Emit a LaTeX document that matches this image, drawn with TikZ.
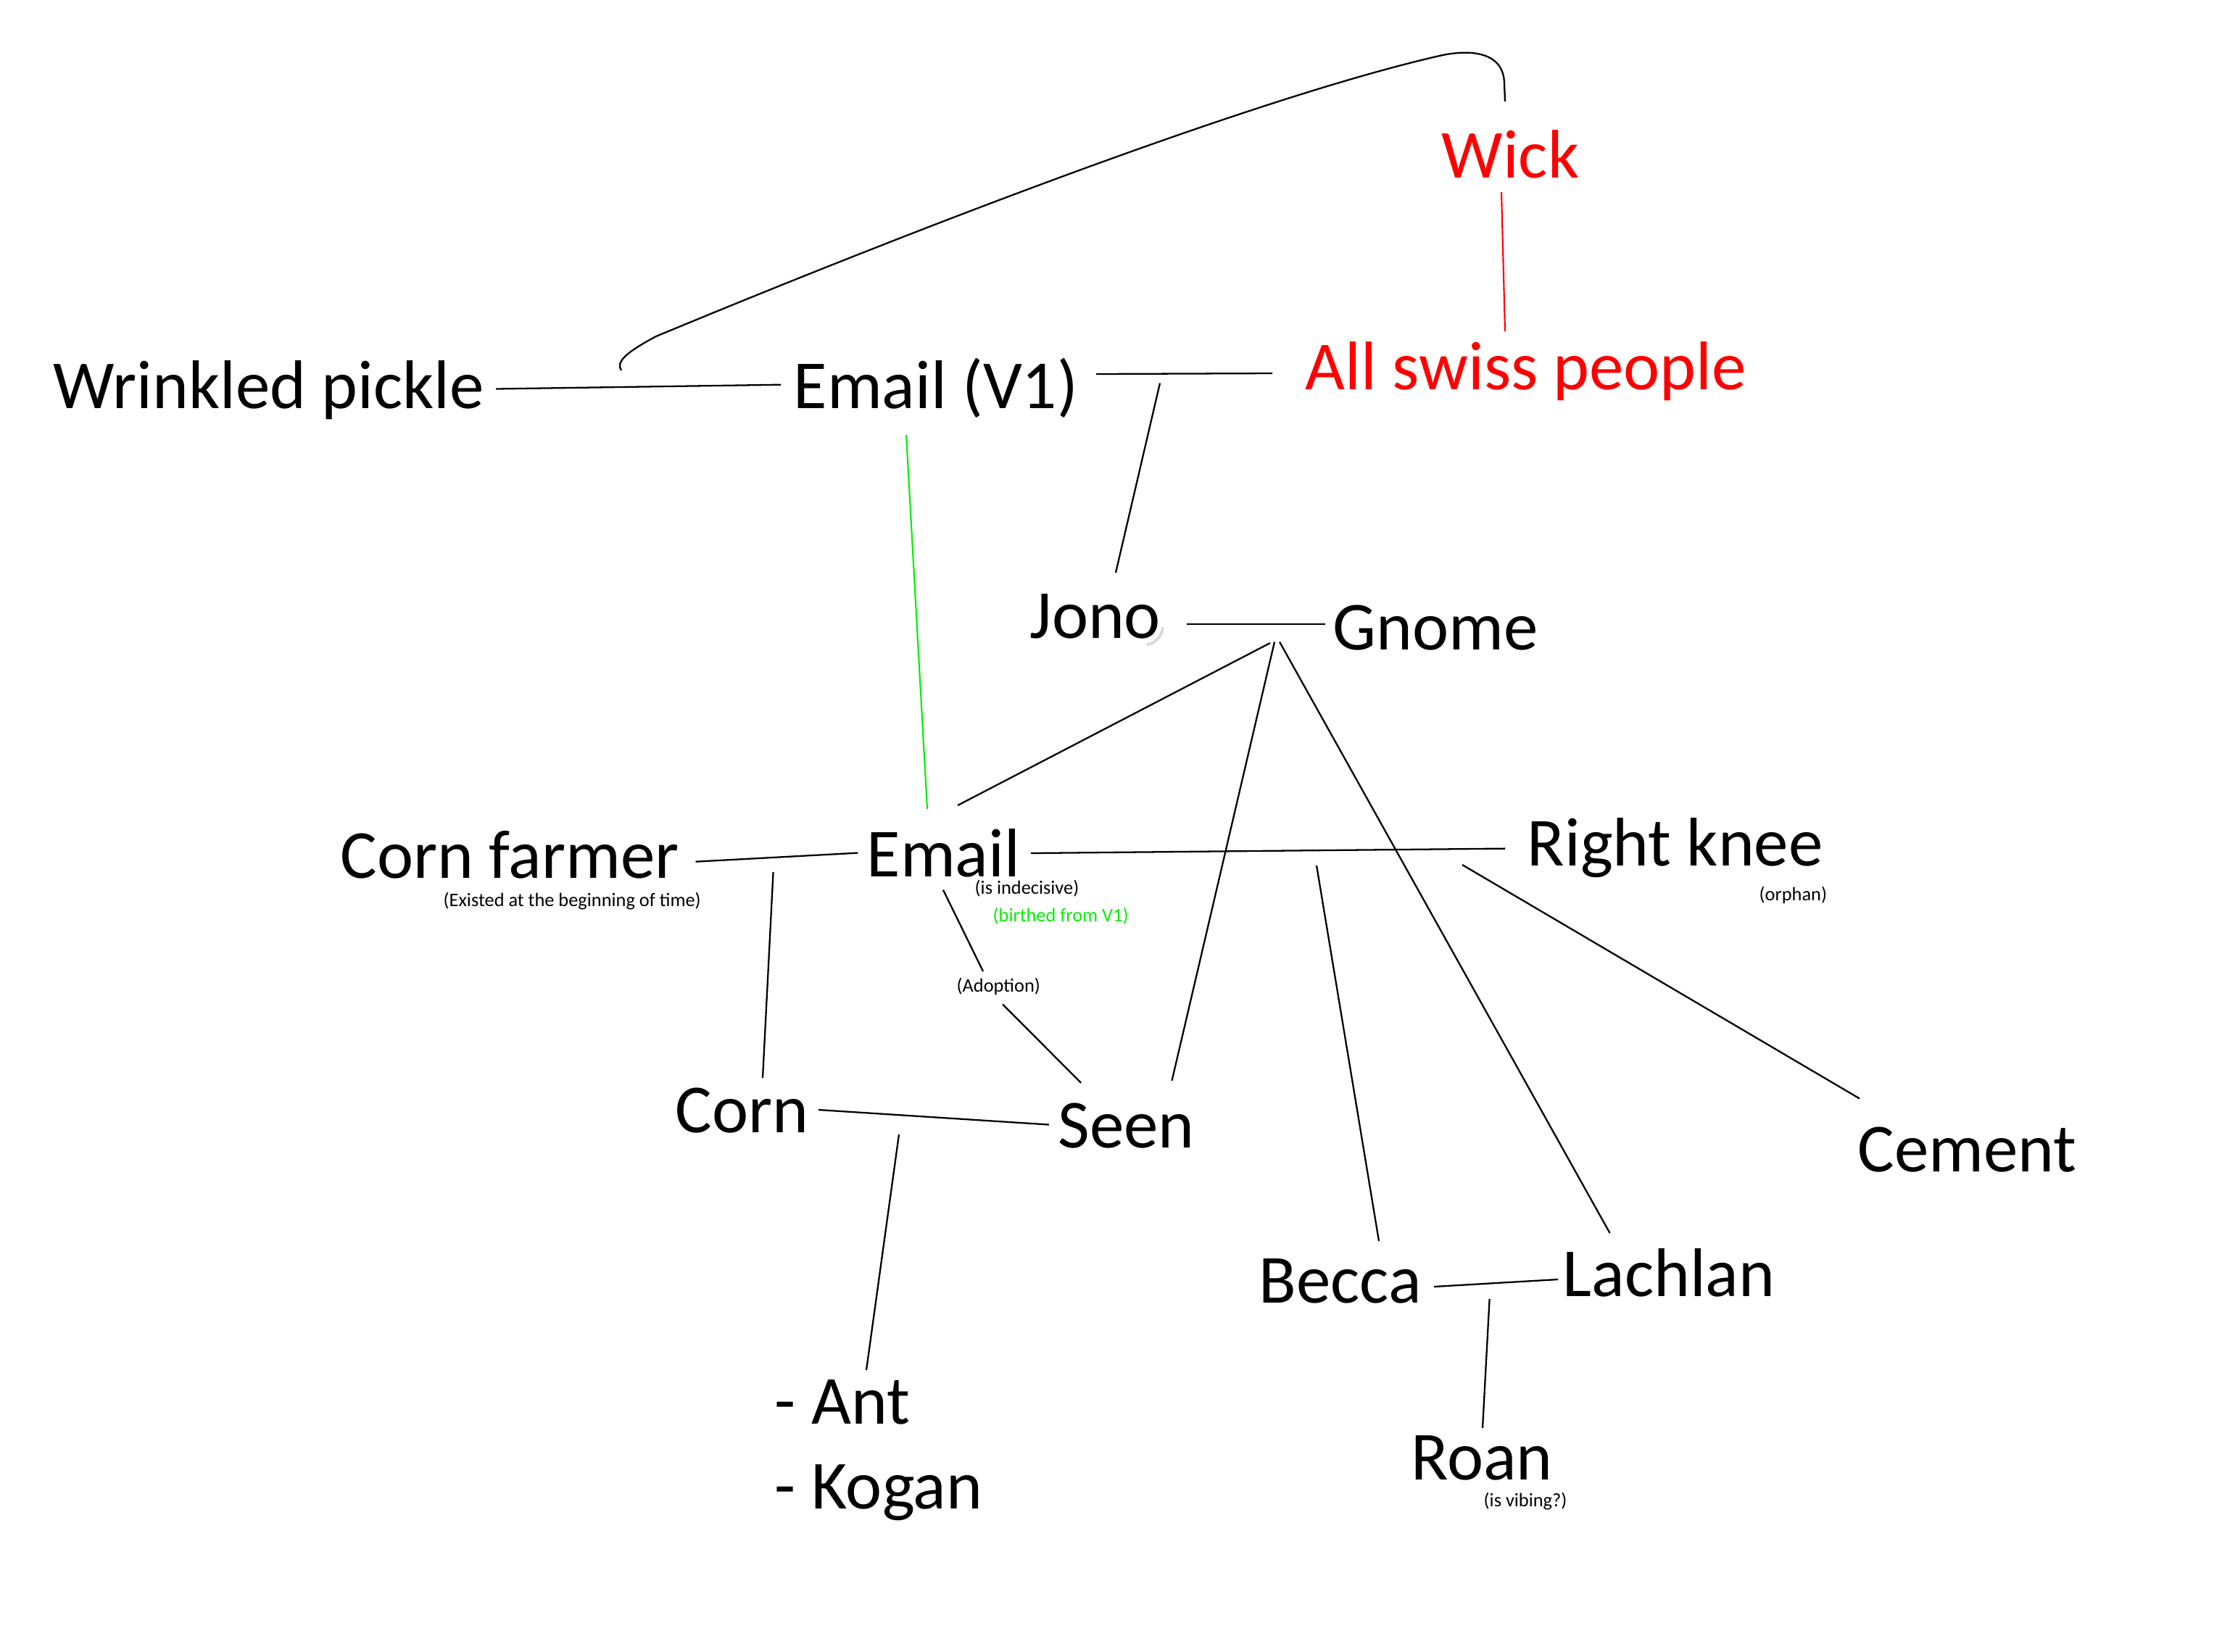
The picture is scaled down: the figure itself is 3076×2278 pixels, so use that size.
\documentclass[tikz,border=0pt]{standalone}
\usepackage{fontspec}
\setmainfont{Carlito}
\definecolor{lime}{RGB}{0,240,0}
\definecolor{pure red}{RGB}{255,0,0}
\begin{document}
\begin{tikzpicture}[x=0.01cm,y=-0.01cm,
  big/.style={inner sep=0pt,anchor=base west,font=\fontsize{27}{32}\selectfont},
  small/.style={inner sep=0pt,anchor=base west,font=\fontsize{7.5}{9}\selectfont},
  link/.style={line width=0.65pt,black},
  redlink/.style={line width=0.6pt,pure red},
  greenlink/.style={line width=0.6pt,lime}]
\useasboundingbox (0,0) rectangle (3076,2278);
% nodes
\begin{scope}[shift={(3,2)}]
\node[big,text=pure red] (wick) at (1985,243) {Wick};
\node[big,text=pure red] (swiss) at (1797,535) {All swiss people};
\node[big] (pickle) at (70,561) {Wrinkled pickle};
\node[big] (emailv1) at (1091,561) {Email (V1)};
\node[big] (jono) at (1417,878) {Jono};
\node[big] (gnome) at (1835,894) {Gnome};
\node[big] (cfarmer) at (466,1209) {Corn farmer};
\node[small] (existed) at (608,1248) {(Existed at the beginning of time)};
\node[big] (email) at (1192,1207) {Email};
\node[small] (indecisive) at (1341,1231) {(is indecisive)};
\node[small,text=lime] (birthed) at (1366,1269) {(birthed from V1)};
\node[small] (adoption) at (1316,1366) {(Adoption)};
\node[big] (corn) at (928,1560) {Corn};
\node[big] (seen) at (1456,1581) {Seen};
\node[big] (ant) at (1065,1962) {- Ant};
\node[big] (kogan) at (1065,2079) {- Kogan};
\node[big] (rknee) at (2103,1192) {Right knee};
\node[small] (orphan) at (2423,1240) {(orphan)};
\node[big] (cement) at (2559,1614) {Cement};
\node[big] (becca) at (1733,1795) {Becca};
\node[big] (lachlan) at (2152,1786) {Lachlan};
\node[big] (roan) at (1943,2039) {Roan};
\node[small] (vibing) at (2043,2076) {(is vibing?)};
\end{scope}
% faint shadow beside Jono
\draw[gray!30,line width=1.1pt] (1577,863) ++(5:27) arc[start angle=5,end angle=80,radius=27];
% connector ends
\coordinate (pe) at (684,536.5);
\coordinate (ve) at (1077,530.7);
\coordinate (cs) at (857,511);
\coordinate (ck) at (905,464);
\coordinate (ct) at (1990,76);
\coordinate (cw) at (2075,115);
\coordinate (ce) at (2076,140);
\coordinate (vs) at (1512,516);
\coordinate (sv) at (1755,515);
\coordinate (ws) at (2071,265);
\coordinate (sw) at (2076,457);
\coordinate (vj) at (1600,528.5);
\coordinate (jv) at (1539,790);
\coordinate (vg1) at (1250,600);
\coordinate (vg2) at (1279,1116);
\coordinate (jg) at (1637,861);
\coordinate (gj) at (1828,861);
\coordinate (ge) at (1752,887);
\coordinate (eg) at (1321,1111);
\coordinate (gs) at (1758,885.5);
\coordinate (sg) at (1616.5,1490.7);
\coordinate (gl) at (1765,885.5);
\coordinate (lg) at (2220.5,1701);
\coordinate (fe) at (959.5,1188.7);
\coordinate (ef) at (1183.4,1176.6);
\coordinate (fc) at (1066.6,1203);
\coordinate (cf) at (1052,1487);
\coordinate (ea) at (1301,1227.7);
\coordinate (ae) at (1356,1340);
\coordinate (as) at (1383,1385.5);
\coordinate (sa) at (1491,1493.7);
\coordinate (cn) at (1129,1531);
\coordinate (nc) at (1447,1551.5);
\coordinate (ka) at (1240,1565);
\coordinate (ak) at (1195,1890);
\coordinate (er) at (1422,1177);
\coordinate (re) at (2076,1170.6);
\coordinate (rc) at (2017,1193);
\coordinate (cr) at (2565,1515.5);
\coordinate (bt) at (1816,1194);
\coordinate (bb) at (1902,1712);
\coordinate (bl) at (1978,1775);
\coordinate (lb) at (2149,1765);
\coordinate (rt) at (2054.6,1792);
\coordinate (rb) at (2045,1970);
% connectors
\draw[link] (pe) -- (ve);
\draw[link] (cs) .. controls (850,500) and (860,488) .. (ck)
  .. controls (1300,300) and (1750,130) .. (ct)
  .. controls (2030,68) and (2074,72) .. (cw) -- (ce);
\draw[link] (vs) -- (sv);
\draw[redlink] (ws) -- (sw);
\draw[link] (vj) -- (jv);
\draw[greenlink] (vg1) -- (vg2);
\draw[link] (jg) -- (gj);
\draw[link] (ge) -- (eg);
\draw[link] (gs) -- (sg);
\draw[link] (gl) -- (lg);
\draw[link] (fe) -- (ef);
\draw[link] (fc) -- (cf);
\draw[link] (ea) -- (ae);
\draw[link] (as) -- (sa);
\draw[link] (cn) -- (nc);
\draw[link] (ka) -- (ak);
\draw[link] (er) -- (re);
\draw[link] (rc) -- (cr);
\draw[link] (bt) -- (bb);
\draw[link] (bl) -- (lb);
\draw[link] (rt) -- (rb);
\end{tikzpicture}
\end{document}
